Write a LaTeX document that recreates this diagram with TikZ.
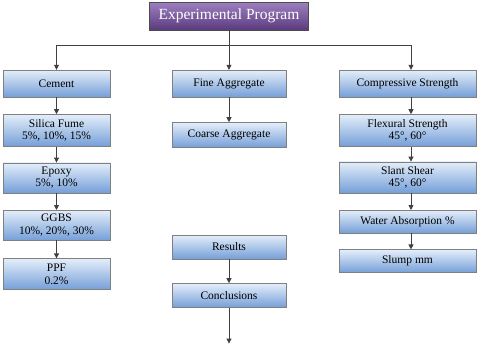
\documentclass[tikz,border=0pt]{standalone}
\usepackage{fontspec}
\setmainfont{Liberation Serif}
\usetikzlibrary{arrows.meta,positioning,calc}
\definecolor{bluetop}{HTML}{E4EEFA}
\definecolor{bluebot}{HTML}{759FD8}
\definecolor{purptop}{HTML}{9E80C0}
\definecolor{purpbot}{HTML}{5A3A7D}
\tikzset{
  pbox/.style  ={draw=black!50, top color=bluetop, bottom color=bluebot, align=center,
                 inner sep=1pt, minimum height=27pt, font=\fontsize{11.5}{12.6}\selectfont},
  lcol/.style  ={pbox, minimum width=107pt},
  mcol/.style  ={pbox, minimum width=114pt},
  rcol/.style  ={pbox, minimum width=137pt},
  topbox/.style={draw=black!70, top color=purptop, bottom color=purpbot, text=white,
                 minimum width=159pt, minimum height=28pt, font=\fontsize{15.5}{17}\selectfont},
  ln/.style    ={draw=black!75, line width=0.8pt},
  ar/.style    ={ln, -{Triangle[length=5pt,width=5pt]}},
}
\begin{document}
\begin{tikzpicture}[x=1pt, y=-1pt, node distance=17pt]
\useasboundingbox (0,0) rectangle (480,349);
\node[topbox] (prog) at (229,16) {Experimental Program};
\node[lcol] (cement) at (56.5,83.5) {Cement};
\node[mcol] (fine) at (229,83.5) {Fine Aggregate};
\node[rcol] (comp) at (407.5,83.5) {Compressive Strength};
% left column
\node[lcol, minimum height=32pt, below=17pt of cement] (silica) {Silica Fume\\5\%, 10\%, 15\%};
\node[lcol, minimum height=30pt, below=16pt of silica] (epoxy) {Epoxy\\5\%, 10\%};
\node[lcol, minimum height=30pt, below=17pt of epoxy] (ggbs) {GGBS\\10\%, 20\%, 30\%};
\node[lcol, minimum height=31pt, below=18pt of ggbs] (ppf) {PPF\\0.2\%};
% middle column
\node[mcol, minimum height=25pt, below=25pt of fine] (coarse) {Coarse Aggregate};
\node[mcol, minimum height=24pt] (results) at (229,247) {Results};
\node[mcol, minimum height=24pt, below=24pt of results] (concl) {Conclusions};
\coordinate[below=36pt of concl] (out);
% right column
\node[rcol, minimum height=32pt, below=17pt of comp] (flex) {Flexural Strength\\45\textdegree, 60\textdegree};
\node[rcol, minimum height=31pt, below=15pt of flex] (slant) {Slant Shear\\45\textdegree, 60\textdegree};
\node[rcol, minimum height=23pt, below=17pt of slant] (water) {Water Absorption \%};
\node[rcol, minimum height=23pt, below=16pt of water] (slump) {Slump mm};
% connectors
\coordinate (bus) at ($(prog.south)+(0,15)$);
\draw[ln] (prog.south) -- (bus);
\draw[ar] (bus) -| (cement.north);
\draw[ar] (bus) -- (fine.north);
\draw[ar] (bus) -| ([xshift=3.5pt]comp.north);
\draw[ar] (cement) -- (silica); \draw[ar] (silica) -- (epoxy);
\draw[ar] (epoxy) -- (ggbs); \draw[ar] (ggbs) -- (ppf);
\draw[ar] (fine) -- (coarse); \draw[ar] (results) -- (concl);
\draw[ar] (concl) -- (out);
\draw[ar] ([xshift=3.5pt]comp.south) -- ([xshift=3.5pt]flex.north);
\draw[ar] ([xshift=3.5pt]flex.south) -- ([xshift=3.5pt]slant.north);
\draw[ar] ([xshift=3.5pt]slant.south) -- ([xshift=3.5pt]water.north);
\draw[ar] ([xshift=3.5pt]water.south) -- ([xshift=3.5pt]slump.north);
\end{tikzpicture}
\end{document}
